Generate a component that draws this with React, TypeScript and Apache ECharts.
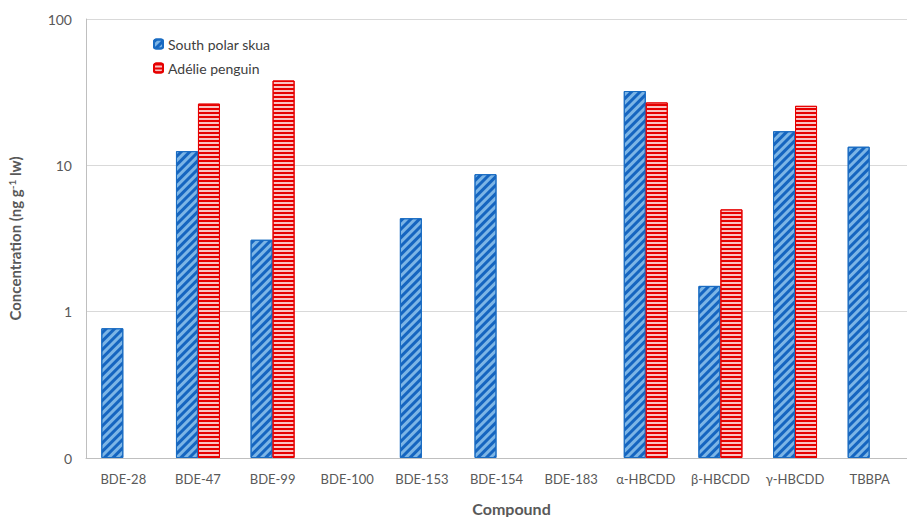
import React, { useEffect, useRef } from "react";
import * as echarts from "echarts";

const categories = ["BDE-28", "BDE-47", "BDE-99", "BDE-100", "BDE-153", "BDE-154", "BDE-183", "α-HBCDD", "β-HBCDD", "γ-HBCDD", "TBBPA"];
const skua = [0.77, 12.5, 3.1, null, 4.35, 8.7, null, 32.2, 1.5, 17.1, 13.4];
const penguin = [null, 26.4, 38, null, null, null, null, 26.9, 5.0, 25.5, null];
const yTicks = [0.1, 1, 10, 100];

const FONT = "Lato, 'Open Sans', sans-serif";

export default function App() {
  const ref = useRef<HTMLDivElement>(null);
  useEffect(() => {
    const chart = echarts.init(ref.current!, null, { renderer: "svg" });
    chart.setOption({
      animation: false,
      textStyle: { fontFamily: FONT },
      grid: { left: 86, right: 0, top: 19, bottom: 59, containLabel: false, outerBoundsMode: "none" },
      legend: {
        orient: "vertical",
        left: 148,
        top: 32,
        itemWidth: 9,
        itemHeight: 9,
        itemGap: 10,
        textStyle: { fontSize: 14, color: "#404040", fontFamily: FONT },
        data: ["South polar skua", "Adélie penguin"],
      },
      xAxis: {
        type: "category",
        data: categories,
        axisTick: { show: false },
        axisLine: { lineStyle: { color: "#bfbfbf", width: 1 } },
        axisLabel: { color: "#595959", fontSize: 13, margin: 14, interval: 0, fontFamily: FONT },
        name: "Compound",
        nameLocation: "middle",
        nameGap: 42,
        nameTextStyle: { fontWeight: "bold", fontSize: 16, color: "#595959", padding: [0, 0, 0, 30], fontFamily: FONT },
      },
      yAxis: {
        type: "log",
        logBase: 10,
        min: yTicks[0],
        max: yTicks[yTicks.length - 1],
        startValue: yTicks[0],
        axisLine: { show: true, lineStyle: { color: "#bfbfbf" } },
        axisTick: { show: false },
        splitLine: { lineStyle: { color: "#d9d9d9" } },
        axisLabel: {
          color: "#595959",
          fontSize: 14,
          margin: 14,
          fontFamily: FONT,
          formatter: (v: number) => (v < 1 ? "0" : String(Math.round(v))),
        },
        name: "{a|Concentration (ng g}{s|-1}{a| lw)}",
        nameLocation: "middle",
        nameGap: 63,
        nameRotate: 90,
        nameTextStyle: {
          rich: {
            a: { fontWeight: "bold", fontSize: 15, color: "#595959", fontFamily: FONT },
            s: { fontWeight: "bold", fontSize: 10, color: "#595959", verticalAlign: "top", fontFamily: FONT, padding: [0, 0, 6, 0] },
          },
        },
      },
      series: [
        {
          name: "South polar skua",
          type: "bar",
          data: skua,
          barWidth: 22,
          barGap: "0%",
          itemStyle: {
            color: "#7cb5e6",
            borderColor: "#1a6cc2",
            borderWidth: 1,
            decal: {
              symbol: "rect",
              symbolSize: 1,
              dashArrayX: [1, 0],
              dashArrayY: [2.2, 2.2],
              rotation: -Math.PI / 4,
              color: "#1565c0",
            },
          },
        },
        {
          name: "Adélie penguin",
          type: "bar",
          data: penguin,
          barWidth: 22,
          barGap: "0%",
          itemStyle: {
            color: "#f9c3c3",
            borderColor: "#e60000",
            borderWidth: 1,
            decal: {
              symbol: "rect",
              symbolSize: 1,
              dashArrayX: [1, 0],
              dashArrayY: [2, 1.5],
              rotation: 0,
              color: "#e60000",
            },
          },
        },
      ],
    });
    return () => chart.dispose();
  }, []);
  return <div ref={ref} style={{ width: 907, height: 517, position: "absolute", left: 0, top: 0 }} />;
}
